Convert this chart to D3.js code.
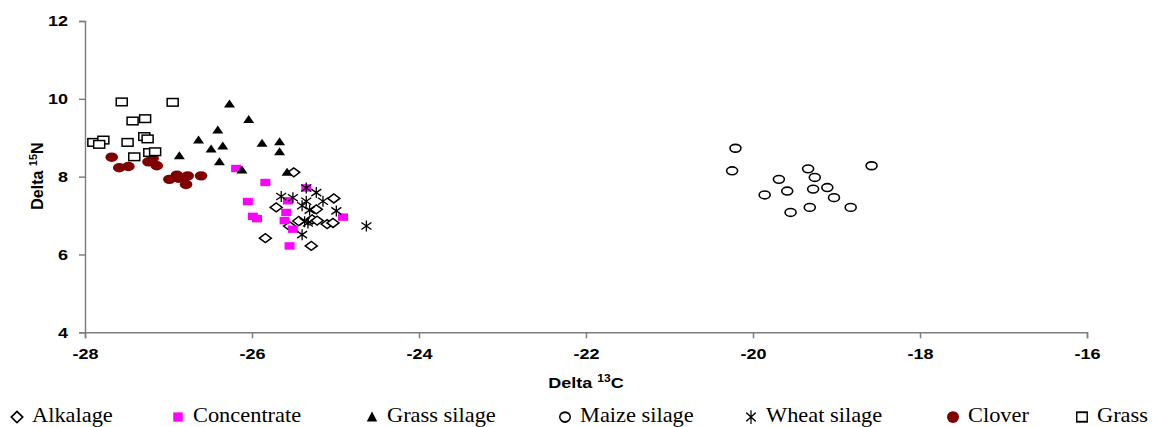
<!DOCTYPE html>
<html>
<head>
<meta charset="utf-8">
<script src="https://cdn.jsdelivr.net/npm/d3@7"></script>
<style>
  body { margin: 0; background: #fff; }
  svg text { font-family: "Liberation Sans", Arial, sans-serif; }
  .legend text { font-family: "Liberation Serif", "Times New Roman", serif; font-size: 20px; }
</style>
</head>
<body>
<div id="d3"></div>
<script>
const width = 1153;
const height = 427;

const x_ticks = [-28, -26, -24, -22, -20, -18, -16];
const y_ticks = [4, 6, 8, 10, 12];

const alkalage_c = [-25.50, -25.71, -25.02, -25.23, -25.44, -25.28, -25.22, -25.55, -25.10, -25.03, -25.84, -25.29];
const alkalage_n = [8.11, 7.21, 7.44, 7.16, 6.86, 6.90, 6.87, 6.73, 6.78, 6.81, 6.42, 6.22];

const concentrate_c = [-26.19, -25.84, -25.35, -26.05, -25.57, -25.99, -25.94, -25.59, -25.61, -25.51, -24.91, -25.55];
const concentrate_n = [8.21, 7.85, 7.71, 7.36, 7.38, 6.98, 6.92, 7.08, 6.87, 6.65, 6.96, 6.22];

const grass_silage_c = [-26.27, -26.04, -26.41, -26.64, -26.35, -26.49, -25.88, -25.67, -25.67, -26.87, -26.39, -26.12, -25.58];
const grass_silage_n = [9.87, 9.47, 9.20, 8.94, 8.79, 8.71, 8.86, 8.90, 8.64, 8.54, 8.38, 8.17, 8.11];

const maize_silage_c = [-20.21, -20.25, -19.34, -18.58, -19.26, -19.69, -19.59, -19.28, -19.11, -19.86, -19.03, -19.32, -19.55, -18.83];
const maize_silage_n = [8.73, 8.15, 8.20, 8.28, 7.98, 7.93, 7.63, 7.68, 7.72, 7.53, 7.46, 7.21, 7.08, 7.21];

const wheat_silage_c = [-25.35, -25.65, -25.51, -25.23, -25.35, -25.40, -25.15, -25.31, -24.99, -25.37, -25.33, -25.40, -24.63];
const wheat_silage_n = [7.71, 7.49, 7.46, 7.59, 7.37, 7.25, 7.37, 7.14, 7.12, 6.84, 6.81, 6.51, 6.73];

const clover_c = [-27.68, -27.59, -27.48, -27.24, -27.19, -27.14, -26.99, -26.90, -26.88, -26.77, -26.79, -26.61];
const clover_n = [8.50, 8.23, 8.26, 8.38, 8.47, 8.28, 7.93, 8.04, 7.96, 8.02, 7.80, 8.02];

const grass_c = [-27.56, -26.95, -27.43, -27.28, -27.90, -27.78, -27.83, -27.49, -27.29, -27.25, -27.41, -27.23, -27.16];
const grass_n = [9.92, 9.91, 9.43, 9.49, 8.88, 8.94, 8.83, 8.88, 9.03, 8.97, 8.51, 8.62, 8.64];

const series_names = ["Alkalage", "Concentrate", "Grass silage", "Maize silage", "Wheat silage", "Clover", "Grass"];

const margin = { left: 85, right: 66, top: 21, bottom: 94.7 };
const stretch = 1.2; // text in the original is drawn a bit wide

const x = d3.scaleLinear().domain([-28, -16]).range([margin.left, width - margin.right]);
const y = d3.scaleLinear().domain([4, 12]).range([height - margin.bottom, margin.top]);

const svg = d3.select("#d3").append("svg")
    .attr("width", width)
    .attr("height", height);

// marker drawing functions, centred on 0,0
function diamond(g) {
    g.append("path").attr("d", "M-6,0L0,-4.5L6,0L0,4.5Z")
        .attr("fill", "#fff").attr("stroke", "#000").attr("stroke-width", 1.5);
}
function pinkSquare(g) {
    g.append("rect").attr("x", -5).attr("y", -3.7).attr("width", 10).attr("height", 7.4)
        .attr("fill", "#ff00ff");
}
function triangle(g) {
    g.append("path").attr("d", "M-5.5,3.5L0,-4.5L5.5,3.5Z").attr("fill", "#000");
}
function circle(g) {
    g.append("ellipse").attr("rx", 5.5).attr("ry", 3.9)
        .attr("fill", "#fff").attr("stroke", "#000").attr("stroke-width", 1.6);
}
function asterisk(g) {
    g.append("path").attr("d", "M0,-5.5L0,5.5M-5,-3.5L5,3.5M-5,3.5L5,-3.5")
        .attr("stroke", "#000").attr("stroke-width", 1.3).attr("fill", "none");
}
function clover(g) {
    g.append("ellipse").attr("rx", 6.3).attr("ry", 4.7).attr("fill", "#800000");
}
function square(g) {
    g.append("rect").attr("x", -5.5).attr("y", -3.8).attr("width", 11).attr("height", 7.6)
        .attr("fill", "#fff").attr("stroke", "#000").attr("stroke-width", 1.5);
}

const series = [
    { c: alkalage_c, n: alkalage_n, draw: diamond },
    { c: concentrate_c, n: concentrate_n, draw: pinkSquare },
    { c: grass_silage_c, n: grass_silage_n, draw: triangle },
    { c: maize_silage_c, n: maize_silage_n, draw: circle },
    { c: wheat_silage_c, n: wheat_silage_n, draw: asterisk },
    { c: clover_c, n: clover_n, draw: clover },
    { c: grass_c, n: grass_n, draw: square },
];

// axes
const xAxis = svg.append("g")
    .attr("transform", `translate(0,${y(4)})`)
    .call(d3.axisBottom(x).tickValues(x_ticks).tickSize(6).tickPadding(10));
const yAxis = svg.append("g")
    .attr("transform", `translate(${x(-28)},0)`)
    .call(d3.axisLeft(y).tickValues(y_ticks).tickSize(6).tickPadding(11));

[xAxis, yAxis].forEach(a => {
    a.select(".domain").attr("stroke", "#7f7f7f").attr("stroke-width", 1.5);
    a.selectAll(".tick line").attr("stroke", "#7f7f7f").attr("stroke-width", 1.5);
    a.selectAll(".tick text")
        .attr("fill", "#000")
        .attr("transform", `scale(${stretch},1)`)
        .style("font-size", "15px")
        .style("font-weight", "bold")
        .style("font-family", "'Liberation Sans', Arial, sans-serif")
        .text(d => String(d)); // hyphen minus like Excel
});
yAxis.selectAll(".tick text").attr("x", -17 / stretch);

// axis titles
const xt = svg.append("g").attr("transform", `translate(${(x(-28) + x(-16)) / 2},388) scale(${stretch},1)`)
    .append("text")
    .attr("text-anchor", "middle")
    .style("font-size", "15px").style("font-weight", "bold");
xt.append("tspan").text("Delta ");
xt.append("tspan").attr("dy", -6).style("font-size", "10px").text("13");
xt.append("tspan").attr("dy", 6).text("C");

const yt = svg.append("text")
    .attr("transform", "translate(43,176) rotate(-90)")
    .attr("text-anchor", "middle")
    .style("font-size", "16px").style("font-weight", "bold");
yt.append("tspan").text("Delta ");
yt.append("tspan").attr("dy", -6).style("font-size", "11px").text("15");
yt.append("tspan").attr("dy", 6).text("N");

// points
series.forEach(s => {
    const pts = s.c.map((c, i) => ({ c: c, n: s.n[i] }));
    svg.append("g")
        .selectAll("g")
        .data(pts)
        .enter()
        .append("g")
        .attr("transform", d => `translate(${x(d.c)},${y(d.n)})`)
        .each(function () { s.draw(d3.select(this)); });
});

// legend
const legend_marker_x = [17, 178, 372, 565, 751, 953, 1082];
const legend = svg.append("g").attr("class", "legend");
series.forEach((s, i) => {
    const g = legend.append("g").attr("transform", `translate(${legend_marker_x[i]},417)`);
    g.append("g").attr("transform", "scale(0.95,1.25)").call(s.draw);
    g.append("g").attr("transform", `translate(15,5) scale(1.12,1)`)
        .append("text").text(series_names[i]);
});
</script>
</body>
</html>
